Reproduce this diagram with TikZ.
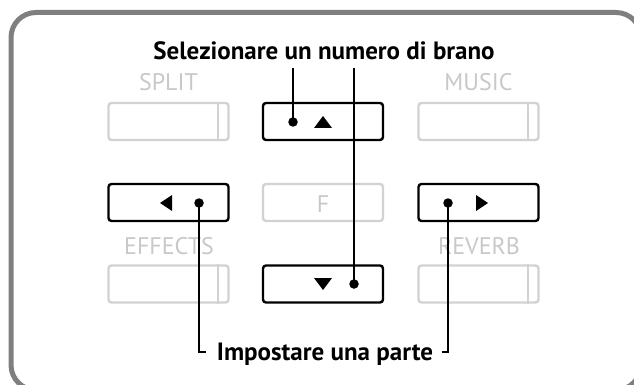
\documentclass[tikz,border=0pt]{standalone}
\usepackage{fontspec}
\setmainfont{PT Sans}
\definecolor{framegray}{HTML}{7F7F7F}
\definecolor{lightgray}{HTML}{D2D2D2}
\definecolor{labelgray}{HTML}{C8C8C8}
\newcommand{\labelsize}{\fontsize{24pt}{28pt}\selectfont}
\newcommand{\calloutsize}{\fontsize{25pt}{29pt}\selectfont}
\begin{document}
\begin{tikzpicture}[x=1pt,y=-1pt,
  activebtn/.style={draw=black,line width=2.4pt,rounded corners=3pt,minimum width=120pt,minimum height=37pt,inner sep=0pt},
  passivebtn/.style={draw=lightgray,line width=2.4pt,rounded corners=3pt,minimum width=120pt,minimum height=37pt,inner sep=0pt},
  keylabel/.style={text=labelgray,font=\labelsize,inner sep=0pt,anchor=base},
  callout/.style={font=\bfseries\calloutsize,inner sep=0pt,anchor=base},
  dotmark/.style={circle,fill=black,inner sep=0pt,minimum size=9.5pt},
  tri/.style={fill=black},
  leader/.style={line width=1.4pt}
]
\useasboundingbox (0,0) rectangle (634,385);
\clip (0,0) rectangle (634,385);
% outer frame
\draw[framegray,line width=5pt,rounded corners=25pt] (11,12.5) rectangle (641,390);

% labels
\node[keylabel] (lsplit) at (168.5,91) {SPLIT};
\node[keylabel] (lmusic) at (478.5,91) {MUSIC};
\node[keylabel] (lf) at (323,212) {F};
\node[keylabel] (leffects) at (169,254) {EFFECTS};
\node[keylabel] (lreverb) at (479,254) {REVERB};

% buttons
\node[passivebtn] (bsplit) at (168.5,121.5) {};
\node[activebtn] (bup) at (323,121.5) {};
\node[passivebtn] (bmusic) at (478.5,121.5) {};
\node[activebtn] (bleft) at (168.5,202.5) {};
\node[passivebtn] (bf) at (323,202.5) {};
\node[activebtn] (bright) at (478.5,202.5) {};
\node[passivebtn] (beffects) at (168.5,284) {};
\node[activebtn] (bdown) at (323,284) {};
\node[passivebtn] (breverb) at (478.5,284) {};

% inner separators of the grey buttons
\foreach \b in {bsplit,bmusic,beffects,breverb}{
  \draw[lightgray,line width=2pt] ([xshift=-12pt]\b.north east) -- ([xshift=-12pt]\b.south east);
}

% arrow triangles
\fill[tri] (314,128) -- (332,128) -- (323,116) -- cycle;
\fill[tri] (314,278) -- (332,278) -- (323,290) -- cycle;
\fill[tri] (172,195) -- (172,211) -- (160,203) -- cycle;
\fill[tri] (476,195) -- (476,211) -- (488,203) -- cycle;

% dots
\node[dotmark] (dup) at (293,122) {};
\node[dotmark] (ddown) at (354,284) {};
\node[dotmark] (dleft) at (199,203) {};
\node[dotmark] (dright) at (448,203) {};

% callout texts
\node[callout] (title) at (324,60) {Selezionare un numero di brano};
\node[callout] (part) at (325,360) {Impostare una parte};

% leader lines
\coordinate (t1) at (293,68);
\coordinate (t2) at (354,68);
\coordinate (p1) at (206,352);
\coordinate (p2) at (442,352);
\draw[leader] (t1) -- (dup.center);
\draw[leader] (t2) -- (ddown.center);
\draw[leader] (dleft.center) |- (p1);
\draw[leader] (dright.center) |- (p2);
\end{tikzpicture}
\end{document}
